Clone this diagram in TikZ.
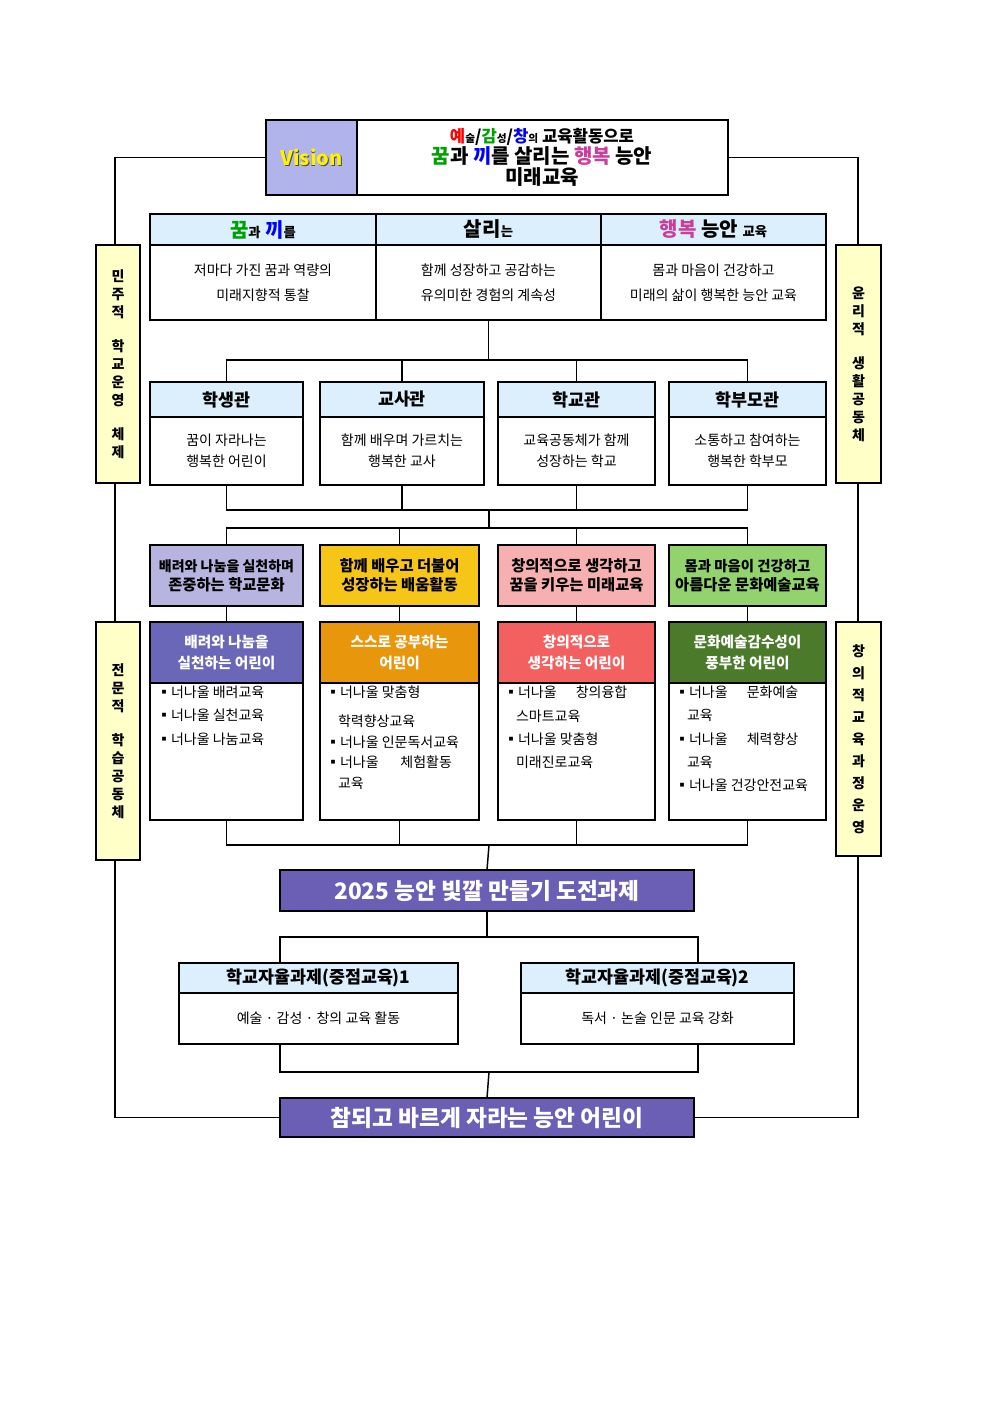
\documentclass[tikz,border=0pt]{standalone}
\usepackage{fontspec}
\setmainfont{Noto Sans CJK KR}
\usetikzlibrary{calc}
\definecolor{hb}{HTML}{DCEFFD}
\definecolor{sy}{HTML}{FFFFC8}
\definecolor{vl}{HTML}{B0B4EA}
\definecolor{c1}{HTML}{B8B4E0}
\definecolor{c2}{HTML}{F5C518}
\definecolor{c3}{HTML}{F6B0B0}
\definecolor{c4}{HTML}{92D36E}
\definecolor{d1}{HTML}{6B67B8}
\definecolor{d2}{HTML}{E8960C}
\definecolor{d3}{HTML}{F26060}
\definecolor{d4}{HTML}{4A7A2A}
\definecolor{bn}{HTML}{6B5FB5}
\definecolor{mg}{HTML}{C8409A}
\definecolor{gr}{HTML}{00A000}
\newcommand\mybox[7][]{\node[bx,minimum width={(#5-#3)*0.75pt},minimum height={(#6-#4)*0.75pt},#1] (#2) at ({(#3+#5)/2},{(#4+#6)/2}) {#7};}
\tikzset{every node/.style={inner sep=0pt,outer sep=0pt},
 bx/.style={draw,line width=1.1pt,align=center,font=\fontsize{10.5}{19}\selectfont},
 hd/.style={fill=hb,font=\fontsize{13}{15}\bfseries\selectfont},
 ln/.style={line width=1.1pt},
 side/.style={bx,fill=sy,font=\fontsize{10.5}{13.5}\bfseries\selectfont},
 ctx/.style={font=\fontsize{11.5}{14}\bfseries\selectfont},
 dtx/.style={text=white,font=\fontsize{11}{16}\bfseries\selectfont},
 lst/.style={anchor=north west,align=left,font=\fontsize{10.5}{17.5}\selectfont},
 ban/.style={bx,fill=bn,text=white,font=\fontsize{17}{20}\bfseries\selectfont}}
\begin{document}
\begin{tikzpicture}[x=0.75pt,y=-0.75pt]
\useasboundingbox (0,0) rectangle (992,1403);
% vision
\mybox{vis}{266}{120}{728}{195}{}
\mybox[fill=vl]{vcell}{266}{120}{357}{195}{}
\node[font=\fontsize{15}{17}\bfseries\selectfont,text=black!70] at ($(vcell.center)+(0.8,0.8)$) {Vision};
\node[font=\fontsize{15}{17}\bfseries\selectfont,text=yellow] (vtxt) at (vcell.center) {Vision};
\node[align=center,font=\fontsize{12.5}{16}\bfseries\selectfont] (title) at (542,157.5) {%
{\color{red}예}{\fontsize{8}{8}\selectfont 술}/{\color{gr}감}{\fontsize{8}{8}\selectfont 성}/{\color{blue}창}{\fontsize{8}{8}\selectfont 의} 교육활동으로\\
{\fontsize{15}{17}\selectfont{\color{gr}꿈}과 {\color{blue}끼}를 살리는 {\color{mg}행복} 능안}\\
{\fontsize{15}{17}\selectfont 미래교육}};
% final banner
\mybox[ban]{fin}{280}{1098}{694}{1137}{참되고 바르게 자라는 능안 어린이}
% frame lines
\draw[ln] (vis.west) -| (115,1117.5) -- (fin.west);
\draw[ln] (vis.east) -| (858,1117.5) -- (fin.east);
% side boxes
\mybox[side]{sl1}{96}{245}{140}{483}{민\\주\\적\\[12pt]학\\교\\운\\영\\[12pt]체\\제}
\mybox[side]{sl2}{96}{622}{140}{860}{전\\문\\적\\[12pt]학\\습\\공\\동\\체}
\mybox[side]{sr1}{836}{245}{881}{483}{윤\\리\\적\\[12pt]생\\활\\공\\동\\체}
\mybox[side]{sr2}{836}{622}{881}{856}{창\\[3pt]의\\[3pt]적\\[3pt]교\\[3pt]육\\[3pt]과\\[3pt]정\\[3pt]운\\[3pt]영}
% table
\mybox[hd]{h1}{150}{214}{376}{245}{\fontsize{15}{17}\selectfont{\color{gr}꿈}{\fontsize{10}{10}\selectfont 과} {\color{blue}끼}{\fontsize{10}{10}\selectfont 를}}
\mybox[hd]{h2}{376}{214}{601}{245}{\fontsize{15}{17}\selectfont 살리{\fontsize{10}{10}\selectfont 는}}
\mybox[hd]{h3}{601}{214}{826}{245}{\fontsize{15}{17}\selectfont{\color{mg}행복} 능안 {\fontsize{10}{10}\selectfont 교육}}
\mybox{b1}{150}{245}{376}{320}{저마다 가진 꿈과 역량의\\미래지향적 통찰}
\mybox{b2}{376}{245}{601}{320}{함께 성장하고 공감하는\\유의미한 경험의 계속성}
\mybox{b3}{601}{245}{826}{320}{몸과 마음이 건강하고\\미래의 삶이 행복한 능안 교육}
\draw[line width=1.6pt] (h1.north west) rectangle (b3.south east);
% four views
\mybox[hd]{k1}{150}{382}{303}{417}{학생관}
\mybox[hd]{k2}{320}{382}{484}{417}{교사관}
\mybox[hd]{k3}{498}{382}{655}{417}{학교관}
\mybox[hd]{k4}{669}{382}{826}{417}{학부모관}
\mybox[font=\fontsize{10.5}{16}\selectfont]{kb1}{150}{417}{303}{485}{꿈이 자라나는\\행복한 어린이}
\mybox[font=\fontsize{10.5}{16}\selectfont]{kb2}{320}{417}{484}{485}{함께 배우며 가르치는\\행복한 교사}
\mybox[font=\fontsize{10.5}{16}\selectfont]{kb3}{498}{417}{655}{485}{교육공동체가 함께\\성장하는 학교}
\mybox[font=\fontsize{10.5}{16}\selectfont]{kb4}{669}{417}{826}{485}{소통하고 참여하는\\행복한 학부모}
\draw[ln] (b2.south) -- ++(0,40);
\draw[ln] (k1.north) -- ++(0,-22) -| (k4.north);
\draw[ln] (k2.north) -- ++(0,-22);
\draw[ln] (k3.north) -- ++(0,-22);
% colored row
\mybox[fill=c1,ctx]{c1}{150}{545}{303}{606}{\fontsize{10.5}{14}\selectfont 배려와 나눔을 실천하며\\존중하는 학교문화}
\mybox[fill=c2,ctx]{c2}{320}{545}{479}{606}{함께 배우고 더불어\\성장하는 배움활동}
\mybox[fill=c3,ctx]{c3}{498}{545}{655}{606}{창의적으로 생각하고\\꿈을 키우는 미래교육}
\mybox[fill=c4,ctx]{c4}{669}{545}{826}{606}{\fontsize{10.8}{14}\selectfont 몸과 마음이 건강하고\\아름다운 문화예술교육}
\draw[ln] (kb1.south) -- ++(0,25) -| (kb4.south);
\draw[ln] (kb2.south) -- ++(0,25);
\draw[ln] (kb3.south) -- ++(0,25);
\coordinate (m1) at (489,510);
\coordinate (m2) at (489,528);
\draw[ln] (m1) -- (m2);
\draw[ln] (c1.north) -- ++(0,-17) -| (c4.north);
\draw[ln] (c2.north) -- ++(0,-17);
\draw[ln] (c3.north) -- ++(0,-17);
% child boxes
\mybox[fill=d1,dtx]{d1}{150}{622}{303}{683}{배려와 나눔을\\실천하는 어린이}
\mybox[fill=d2,dtx]{d2}{320}{622}{479}{683}{스스로 공부하는\\어린이}
\mybox[fill=d3,dtx]{d3}{498}{622}{655}{683}{창의적으로\\생각하는 어린이}
\mybox[fill=d4,dtx]{d4}{669}{622}{826}{683}{문화예술감수성이\\풍부한 어린이}
\mybox{db1}{150}{683}{303}{820}{}
\mybox{db2}{320}{683}{479}{820}{}
\mybox{db3}{498}{683}{655}{820}{}
\mybox{db4}{669}{683}{826}{820}{}
\node[lst] (t1) at (157,686) {▪너나울 배려교육\\▪너나울 실천교육\\▪너나울 나눔교육};
\node[lst,font=\fontsize{10.5}{15.5}\selectfont] (t2) at (326,686) {▪너나울 맞춤형\\[6pt]\hspace{9pt}학력향상교육\\▪너나울 인문독서교육\\▪너나울 \hspace{14pt}체험활동\\\hspace{9pt}교육};
\node[lst] (t3) at (504,686) {▪너나울 \hspace{12pt}창의융합\\\hspace{9pt}스마트교육\\▪너나울 맞춤형\\\hspace{9pt}미래진로교육};
\node[lst] (t4) at (675,686) {▪너나울 \hspace{12pt}문화예술\\\hspace{9pt}교육\\▪너나울 \hspace{12pt}체력향상\\\hspace{9pt}교육\\▪너나울 건강안전교육};
\draw[ln] (c1.south) -- (d1.north);
\draw[ln] (c2.south) -- (d2.north);
\draw[ln] (c3.south) -- (d3.north);
\draw[ln] (c4.south) -- (d4.north);
% banner
\mybox[ban]{ban}{280}{870}{694}{911}{2025 능안 빛깔 만들기 도전과제}
\draw[ln] (db1.south) -- ++(0,25) -| (db4.south);
\draw[ln] (db2.south) -- ++(0,25);
\draw[ln] (db3.south) -- ++(0,25);
\coordinate (m3) at (489,845);
\draw[ln] (m3) -- (ban.north);
% two tasks
\mybox[hd]{e1}{179}{963}{458}{993}{학교자율과제(중점교육)1}
\mybox[hd]{e2}{521}{963}{794}{993}{학교자율과제(중점교육)2}
\mybox{eb1}{179}{993}{458}{1044}{예술 · 감성 · 창의 교육 활동}
\mybox{eb2}{521}{993}{794}{1044}{독서 · 논술 인문 교육 강화}
\coordinate (p1) at (280,963);
\coordinate (p2) at (698,963);
\coordinate (q1) at (280,1044);
\coordinate (q2) at (698,1044);
\draw[ln] (ban.south) -- ++(0,26);
\draw[ln] (p1) -- ++(0,-26) -| (p2);
\draw[ln] (q1) -- ++(0,28) -| (q2);
\coordinate (m4) at (489,1072);
\draw[ln] (m4) -- (fin.north);
\end{tikzpicture}
\end{document}
